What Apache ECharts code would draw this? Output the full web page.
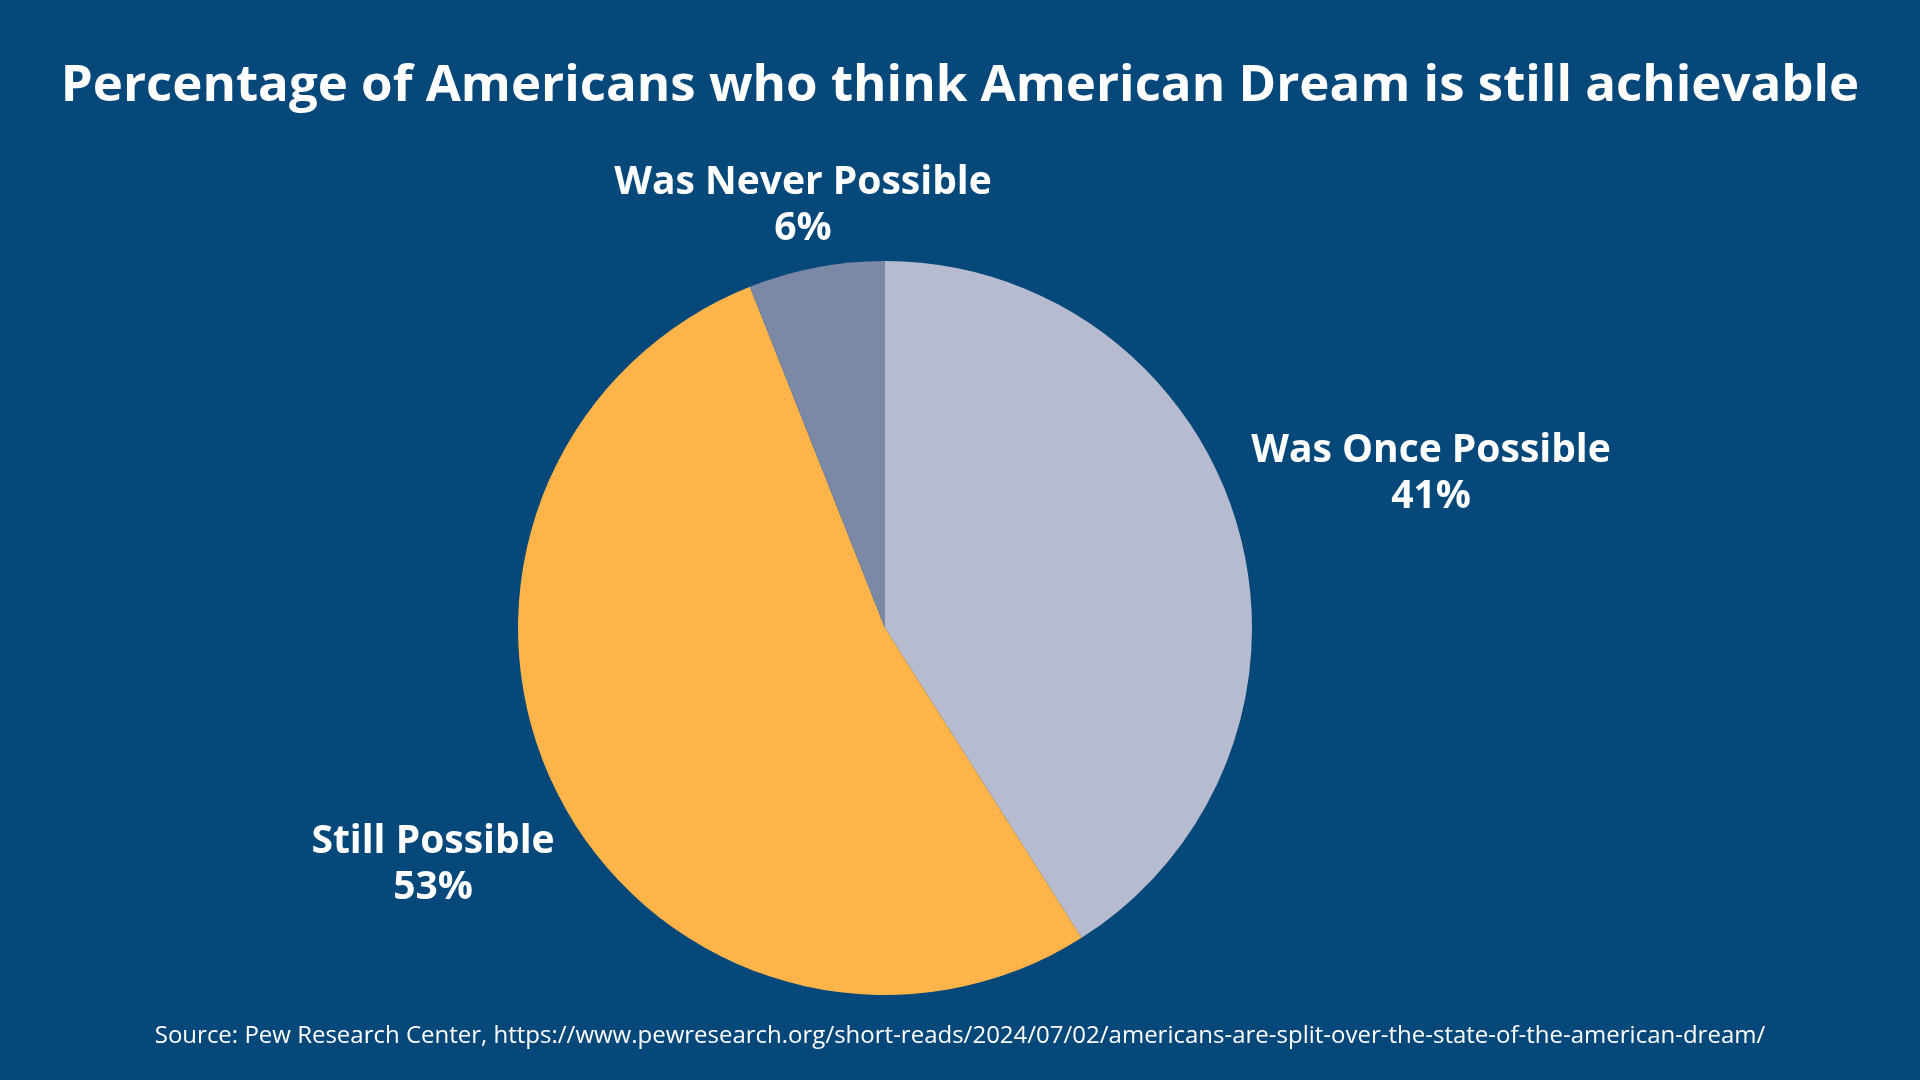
<!DOCTYPE html>
<html>
<head>
<meta charset="utf-8">
<script src="https://cdn.jsdelivr.net/npm/echarts@6/dist/echarts.min.js"></script>
<style>
  html, body { margin: 0; padding: 0; background: #07487a; }
  #chart-container { width: 1920px; height: 1080px; }
</style>
</head>
<body>
<div id="chart-container"></div>
<script>
var categories = ['Was Once Possible', 'Still Possible', 'Was Never Possible'];
var values = [41, 53, 6];
var colors = ['#b7bbcf', '#ffb449', '#7b88a6'];

var titleText = 'Percentage of Americans who think American Dream is still achievable';
var sourceText = 'Source: Pew Research Center, https://www.pewresearch.org/short-reads/2024/07/02/americans-are-split-over-the-state-of-the-american-dream/';

// where each label sits (center of the text block)
var labelSpots = [[1431, 474], [433, 865], [803, 206]];

var dom = document.getElementById('chart-container');
var myChart = echarts.init(dom, null, { renderer: 'canvas' });

var option = {
  backgroundColor: '#07487a',
  animation: false,
  title: [
    {
      text: titleText,
      left: 'center',
      top: 50,
      textStyle: {
        color: '#ffffff',
        fontFamily: 'Open Sans',
        fontWeight: 'bold',
        fontSize: 51,
        lineHeight: 62
      }
    },
    {
      text: sourceText,
      left: 'center',
      top: 1016,
      textStyle: {
        color: '#ffffff',
        fontFamily: 'Open Sans',
        fontWeight: 'normal',
        fontSize: 24,
        lineHeight: 30
      }
    }
  ],
  series: [
    {
      type: 'pie',
      center: [885, 628],
      radius: 367,
      startAngle: 90,
      clockwise: true,
      data: categories.map(function (name, i) {
        return { name: name, value: values[i], itemStyle: { color: colors[i] } };
      }),
      label: {
        show: true,
        position: 'outside',
        formatter: '{b}\n{c}%',
        color: '#ffffff',
        fontFamily: 'Open Sans',
        fontWeight: 'bold',
        fontSize: 39,
        lineHeight: 46,
        align: 'center'
      },
      labelLine: { show: false },
      labelLayout: function (params) {
        var p = labelSpots[params.dataIndex];
        return { x: p[0], y: p[1], align: 'center', verticalAlign: 'middle' };
      }
    }
  ]
};

myChart.setOption(option);
</script>
</body>
</html>
